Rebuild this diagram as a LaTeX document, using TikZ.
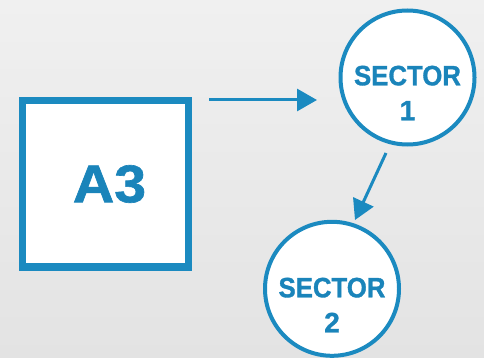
\documentclass[tikz,border=0pt]{standalone}
\usepackage{fontspec}
\setmainfont{Liberation Sans}
\newfontfamily\heavy{Liberation Sans Bold}[FakeBold=1.2]
\usetikzlibrary{arrows.meta}
\definecolor{bl}{HTML}{1B8AC0}
\definecolor{tx}{HTML}{1A84BA}
\definecolor{bgtop}{HTML}{F0F0F0}
\definecolor{bgbot}{HTML}{E3E3E3}
\tikzset{
  sqbox/.style={draw=bl, line width=7.3pt, fill=white, minimum size=166.5pt, inner sep=0pt},
  sector/.style={circle, draw=bl, line width=4pt, fill=white, minimum size=134pt, inner sep=0pt},
  lbl/.style={text=tx, font=\heavy\fontsize{28}{35}\selectfont, align=center, inner sep=0pt},
  conn/.style={draw=bl, line width=3pt, -{Triangle[length=20pt,width=22pt]}}
}
\begin{document}
\begin{tikzpicture}[x=1pt,y=-1pt]
\shade[top color=bgtop, bottom color=bgbot] (0,0) rectangle (484,358);
\useasboundingbox (0,0) rectangle (484,358);
\node[sqbox] (sq) at (105.5,183.7) {};
\node[text=tx, font=\heavy\fontsize{53}{60}\selectfont, inner sep=0pt] (a3) at (109.5,184) {\scalebox{1.08}[1]{A3}};
\node[sector] (s1) at (407.5,77.5) {};
\node[sector] (s2) at (332,288.8) {};
\node[lbl] (t1) at (407.5,93) {\scalebox{0.92}[1]{SECTOR}\\1};
\node[lbl] (t2) at (332,305) {\scalebox{0.92}[1]{SECTOR}\\2};
\coordinate (a1s) at (209,100);
\coordinate (a1e) at (317,100);
\coordinate (a2s) at (386,153);
\coordinate (a2e) at (355,220);
\draw[conn] (a1s) -- (a1e);
\draw[conn] (a2s) -- (a2e);
\end{tikzpicture}
\end{document}
